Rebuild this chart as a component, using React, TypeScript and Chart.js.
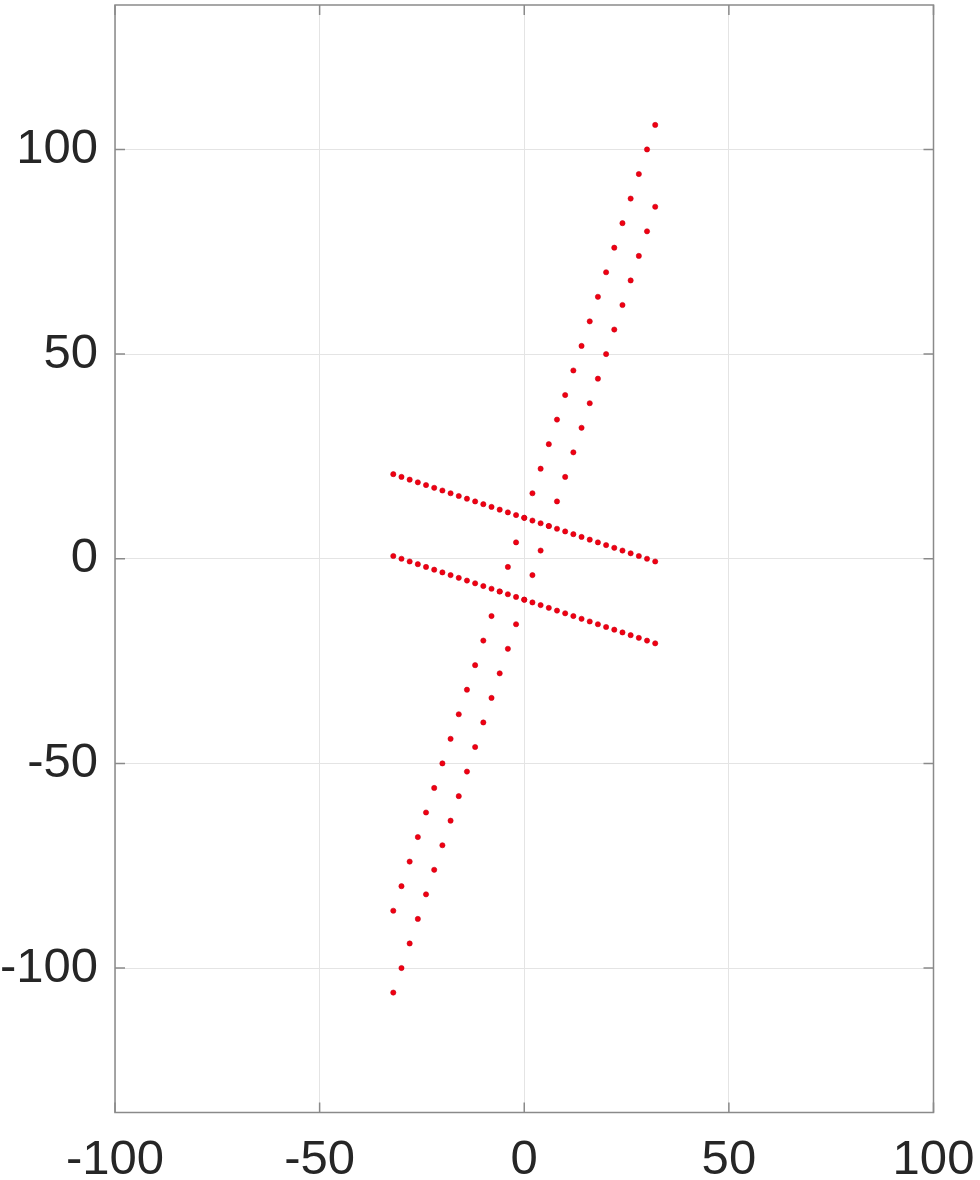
import React, { useEffect, useRef } from "react";
import { Chart, registerables } from "chart.js";

Chart.register(...registerables);

// x positions shared by all four point rows
const xValues = [
  -32, -30, -28, -26, -24, -22, -20, -18, -16, -14, -12, -10, -8, -6, -4, -2, 0,
  2, 4, 6, 8, 10, 12, 14, 16, 18, 20, 22, 24, 26, 28, 30, 32,
];

// steep rows (upper / lower)
const steepUpperY = [
  -86, -80, -74, -68, -62, -56, -50, -44, -38, -32, -26, -20, -14, -8, -2, 4, 10,
  16, 22, 28, 34, 40, 46, 52, 58, 64, 70, 76, 82, 88, 94, 100, 106,
];
const steepLowerY = [
  -106, -100, -94, -88, -82, -76, -70, -64, -58, -52, -46, -40, -34, -28, -22, -16,
  -10, -4, 2, 8, 14, 20, 26, 32, 38, 44, 50, 56, 62, 68, 74, 80, 86,
];

// shallow rows (upper / lower)
const shallowUpperY = [
  20.67, 20, 19.33, 18.67, 18, 17.33, 16.67, 16, 15.33, 14.67, 14, 13.33, 12.67,
  12, 11.33, 10.67, 10, 9.33, 8.67, 8, 7.33, 6.67, 6, 5.33, 4.67, 4, 3.33, 2.67, 2,
  1.33, 0.67, 0, -0.67,
];
const shallowLowerY = [
  0.67, 0, -0.67, -1.33, -2, -2.67, -3.33, -4, -4.67, -5.33, -6, -6.67, -7.33, -8,
  -8.67, -9.33, -10, -10.67, -11.33, -12, -12.67, -13.33, -14, -14.67, -15.33, -16,
  -16.67, -17.33, -18, -18.67, -19.33, -20, -20.67,
];

const xTicks = [-100, -50, 0, 50, 100];
const yTicks = [-100, -50, 0, 50, 100];
const xRange = [-100, 100];
const yRange = [-135.3, 135.3];

const toPoints = (ys: number[]) => xValues.map((x, i) => ({ x, y: ys[i] }));

const boxPlugin = {
  id: "matlabBox",
  afterDatasetsDraw(chart: any) {
    const { ctx, chartArea: a, scales } = chart;
    ctx.save();
    ctx.strokeStyle = "#8a8a8a";
    ctx.lineWidth = 1.5;
    ctx.strokeRect(a.left, a.top, a.right - a.left, a.bottom - a.top);
    const L = 10;
    ctx.beginPath();
    xTicks.forEach((v) => {
      const px = scales.x.getPixelForValue(v);
      ctx.moveTo(px, a.bottom);
      ctx.lineTo(px, a.bottom - L);
      ctx.moveTo(px, a.top);
      ctx.lineTo(px, a.top + L);
    });
    yTicks.forEach((v) => {
      const py = scales.y.getPixelForValue(v);
      ctx.moveTo(a.left, py);
      ctx.lineTo(a.left + L, py);
      ctx.moveTo(a.right, py);
      ctx.lineTo(a.right - L, py);
    });
    ctx.stroke();
    ctx.restore();
  },
};

export default function App() {
  const ref = useRef<HTMLCanvasElement | null>(null);

  useEffect(() => {
    if (!ref.current) return;
    const tickFont = { family: "'Liberation Sans', Arial, Helvetica, sans-serif", size: 49 };
    const mk = (ys: number[]) => ({
      data: toPoints(ys),
      backgroundColor: "#f00010",
      borderColor: "#c8001a",
      borderWidth: 0.6,
      pointRadius: 2.6,
      showLine: false,
    });
    const chart = new Chart(ref.current, {
      type: "scatter",
      data: {
        datasets: [mk(steepUpperY), mk(steepLowerY), mk(shallowUpperY), mk(shallowLowerY)],
      },
      plugins: [boxPlugin],
      options: {
        animation: false,
        responsive: false,
        devicePixelRatio: 1,
        layout: { padding: { top: 5, right: 46.5, left: 0, bottom: 0 } },
        plugins: { legend: { display: false }, tooltip: { enabled: false } },
        scales: {
          x: {
            type: "linear",
            min: xRange[0],
            max: xRange[1],
            afterBuildTicks: (s: any) => {
              s.ticks = xTicks.map((v) => ({ value: v }));
            },
            afterFit: (s: any) => {
              s.height = 67.5;
              s.paddingLeft = 0;
              s.paddingRight = 0;
            },
            grid: { color: "#e4e4e4", lineWidth: 1, drawTicks: false },
            border: { display: false },
            ticks: {
              font: tickFont,
              color: "#262626",
              padding: 19,
              maxRotation: 0,
              autoSkip: false,
              callback: (v: any) => String(v),
            },
          },
          y: {
            type: "linear",
            min: yRange[0],
            max: yRange[1],
            afterBuildTicks: (s: any) => {
              s.ticks = yTicks.map((v) => ({ value: v }));
            },
            afterFit: (s: any) => {
              s.width = 115;
              s.paddingTop = 0;
              s.paddingBottom = 0;
            },
            grid: { color: "#e4e4e4", lineWidth: 1, drawTicks: false },
            border: { display: false },
            ticks: {
              font: tickFont,
              color: "#262626",
              padding: 17,
              autoSkip: false,
              callback: (v: any) => String(v),
            },
          },
        },
      },
    });
    return () => chart.destroy();
  }, []);

  return (
    <div style={{ position: "absolute", left: 0, top: 0, width: 980, height: 1180, background: "#fff" }}>
      <canvas ref={ref} width={980} height={1180} style={{ display: "block" }} />
    </div>
  );
}
